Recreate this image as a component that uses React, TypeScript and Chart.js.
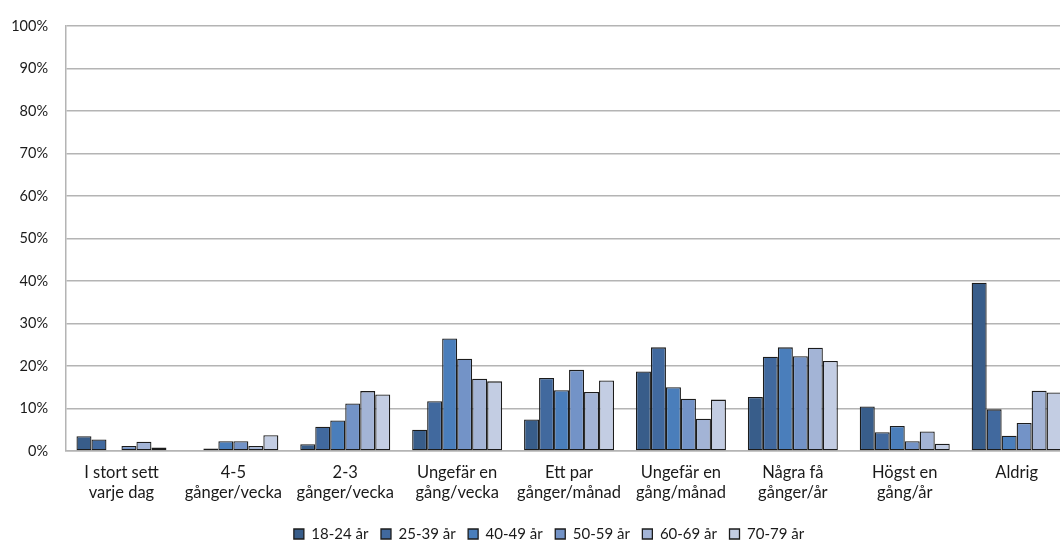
import React, { useEffect, useRef } from "react";
import { Chart, registerables } from "chart.js";

Chart.register(...registerables);

const categories: string[][] = [
  ["I stort sett", "varje dag"],
  ["4-5", "gånger/vecka"],
  ["2-3", "gånger/vecka"],
  ["Ungefär en", "gång/vecka"],
  ["Ett par", "gånger/månad"],
  ["Ungefär en", "gång/månad"],
  ["Några få", "gånger/år"],
  ["Högst en", "gång/år"],
  ["Aldrig"],
];

const seriesLabels = ["18-24 år", "25-39 år", "40-49 år", "50-59 år", "60-69 år", "70-79 år"];

const age18_24 = [3.5, 0, 1.6, 5.0, 7.4, 18.7, 12.7, 10.5, 39.6];
const age25_39 = [2.7, 0.6, 5.7, 11.7, 17.2, 24.4, 22.2, 4.4, 9.8];
const age40_49 = [0, 2.3, 7.2, 26.5, 14.3, 15.0, 24.4, 5.9, 3.6];
const age50_59 = [1.2, 2.3, 11.2, 21.7, 19.1, 12.3, 22.3, 2.3, 6.6];
const age60_69 = [2.2, 1.2, 14.1, 17.0, 13.9, 7.6, 24.3, 4.6, 14.2];
const age70_79 = [0.8, 3.7, 13.3, 16.4, 16.6, 12.1, 21.2, 1.7, 13.8];

const seriesValues = [age18_24, age25_39, age40_49, age50_59, age60_69, age70_79];
const seriesColors = ["#385d8a", "#41699e", "#4a7ebb", "#7393c7", "#a3b4d6", "#c3cde3"];

const yTicks = [0, 10, 20, 30, 40, 50, 60, 70, 80, 90, 100];

const FONT = "Lato";
const TEXT = "#1a1a1a";
const GRID = "#b4b4b4";

const legendShift = {
  id: "legendShift",
  afterLayout(chart: any) {
    if (chart.legend) chart.legend.left = 25.4;
  },
};

export default function App() {
  const ref = useRef<HTMLCanvasElement>(null);

  useEffect(() => {
    if (!ref.current) return;
    const chart = new Chart(ref.current, {
      type: "bar",
      data: {
        labels: categories,
        datasets: seriesLabels.map((label, i) => ({
          label,
          data: seriesValues[i],
          backgroundColor: seriesColors[i],
          borderColor: "#1c1c1c",
          borderWidth: 1.3,
          borderSkipped: false,
          barPercentage: 1,
          categoryPercentage: 0.804,
        })),
      },
      options: {
        responsive: false,
        animation: false,
        devicePixelRatio: 1,
        layout: { padding: { left: 0, right: 7.4, top: 21, bottom: 8.5 } },
        plugins: {
          title: { display: false },
          tooltip: { enabled: false },
          legend: {
            position: "bottom",
            align: "center",
            labels: {
              boxWidth: 10,
              boxHeight: 10,
              padding: 12.5,
              color: TEXT,
              font: { family: FONT, size: 15 },
            },
          },
        },
        scales: {
          x: {
            grid: { display: false, drawTicks: false },
            border: { display: true, color: GRID, width: 1.5 },
            ticks: {
              color: TEXT,
              font: { family: FONT, size: 16.5, lineHeight: 1.2 },
              padding: 12,
              maxRotation: 0,
              autoSkip: false,
            },
            afterFit: (s: any) => {
              s.height = 63;
            },
          },
          y: {
            min: 0,
            max: 100,
            afterBuildTicks: (s: any) => {
              s.ticks = yTicks.map((v) => ({ value: v }));
            },
            grid: { color: GRID, lineWidth: 1.5, drawTicks: false },
            border: { display: true, color: GRID, width: 1.5 },
            ticks: {
              color: TEXT,
              font: { family: FONT, size: 14.5 },
              padding: 17.5,
              callback: (v: any) => `${v}%`,
            },
            afterFit: (s: any) => {
              s.width = 65.5;
            },
          },
        },
      },
      plugins: [legendShift],
    });
    return () => chart.destroy();
  }, []);

  return (
    <div
      style={{
        position: "fixed",
        left: 0,
        top: 0,
        width: 1060,
        height: 544,
        overflow: "hidden",
        background: "#ffffff",
      }}
    >
      <canvas ref={ref} width={1080} height={560} style={{ display: "block" }} />
    </div>
  );
}
